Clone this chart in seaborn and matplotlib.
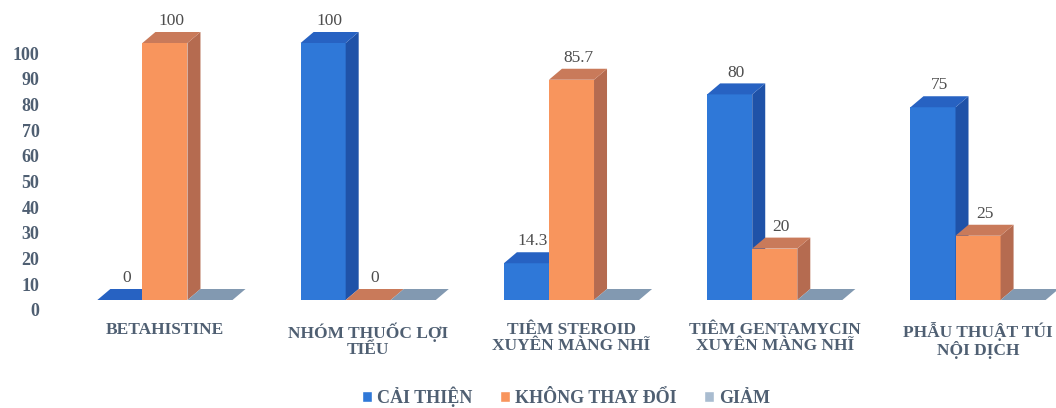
import numpy as np
import pandas as pd
import matplotlib
matplotlib.use("Agg")
import matplotlib.pyplot as plt
import matplotlib.transforms as mtransforms
from matplotlib.patches import Polygon
import seaborn as sns

# ── Data ─────────────────────────────────────────────────────────────────────
categories = ["BETAHISTINE", "NHÓM THUỐC LỢI\nTIỂU", "TIÊM STEROID\nXUYÊN MÀNG NHĨ",
              "TIÊM GENTAMYCIN\nXUYÊN MÀNG NHĨ", "PHẪU THUẬT TÚI\nNỘI DỊCH"]
series = ["CẢI THIỆN", "KHÔNG THAY ĐỔI", "GIẢM"]
cai_thien = [0, 100, 14.3, 80, 75]
khong_doi = [100, 0, 85.7, 20, 25]
giam = [0, 0, 0, 0, 0]
show_labels = [True, True, False]

FRONT = ["#2f78d8", "#f8955d", "#a9bcd0"]
SIDE = ["#1f52a8", "#b56b50", "#7890a8"]
TOP = ["#2762c2", "#c97a5a", "#8299b1"]
TXT = "#4f5f72"

df = pd.DataFrame({
    "cat": categories * 3,
    "series": np.repeat(series, len(categories)),
    "value": cai_thien + khong_doi + giam,
})

sns.set_theme(style="white")
plt.rcParams["font.family"] = ["Liberation Serif", "DejaVu Serif"]

fig = plt.figure(figsize=(10.56, 4.08), dpi=100)
ax = fig.add_axes([45 / 1056, 108 / 408, 1005 / 1056, 110 * 2.57 / 408])

sns.barplot(data=df, x="cat", y="value", hue="series", hue_order=series,
            palette=FRONT, width=0.665, gap=0, saturation=1, ax=ax,
            errorbar=None, legend=True)

ax.set_xlim(-0.59, 4.354)
ax.set_ylim(0, 110)

# 3D depth offsets (data units)
dx, dy = 13 / 203.25, 11 / 2.57

for j, cont in enumerate(ax.containers):
    z = 3 + j
    for p in cont.patches:
        x0, w, h = p.get_x(), p.get_width(), p.get_height()
        p.set_zorder(z)
        p.set_edgecolor("none")
        top = Polygon([(x0, h), (x0 + w, h), (x0 + w + dx, h + dy), (x0 + dx, h + dy)],
                      closed=True, fc=TOP[j], ec="none", zorder=z, clip_on=False)
        side = Polygon([(x0 + w, 0), (x0 + w + dx, dy), (x0 + w + dx, h + dy), (x0 + w, h)],
                       closed=True, fc=SIDE[j], ec="none", zorder=z, clip_on=False)
        ax.add_patch(side)
        ax.add_patch(top)
        if show_labels[j]:
            ax.annotate(f"{h:g}", (x0 + w / 2 + dx / 2, h + dy), xytext=(0, 2),
                        textcoords="offset points", ha="center", va="bottom",
                        fontsize=12.5, color="#4d4d4d", zorder=10)

ax.set_yticks(np.arange(0, 101, 10))
ax.set_xlabel("")
ax.set_ylabel("")
sns.despine(ax=ax, left=True, bottom=True)
ax.tick_params(axis="both", length=0)
ax.tick_params(axis="x", pad=16)
ax.tick_params(axis="y", pad=4)
for lab in ax.get_xticklabels():
    lab.set_fontweight("bold")
    lab.set_fontsize(12.5)
    lab.set_color(TXT)
    lab.set_linespacing(1.0)
shift = mtransforms.ScaledTranslation(0, -0.1, fig.dpi_scale_trans)
for lab in ax.get_yticklabels():
    lab.set_fontweight("bold")
    lab.set_fontsize(13)
    lab.set_color(TXT)
    lab.set_transform(lab.get_transform() + shift)

handles, labels = ax.get_legend_handles_labels()
ax.legend(handles, labels, loc="center", bbox_to_anchor=(566 / 1056, 11 / 408),
          bbox_transform=fig.transFigure, ncol=3, frameon=False,
          handlelength=0.55, handleheight=0.55, handletextpad=0.3, columnspacing=1.5,
          prop={"family": "Liberation Serif", "weight": "bold", "size": 13},
          labelcolor=TXT)

fig.savefig("out.png", dpi=100)
